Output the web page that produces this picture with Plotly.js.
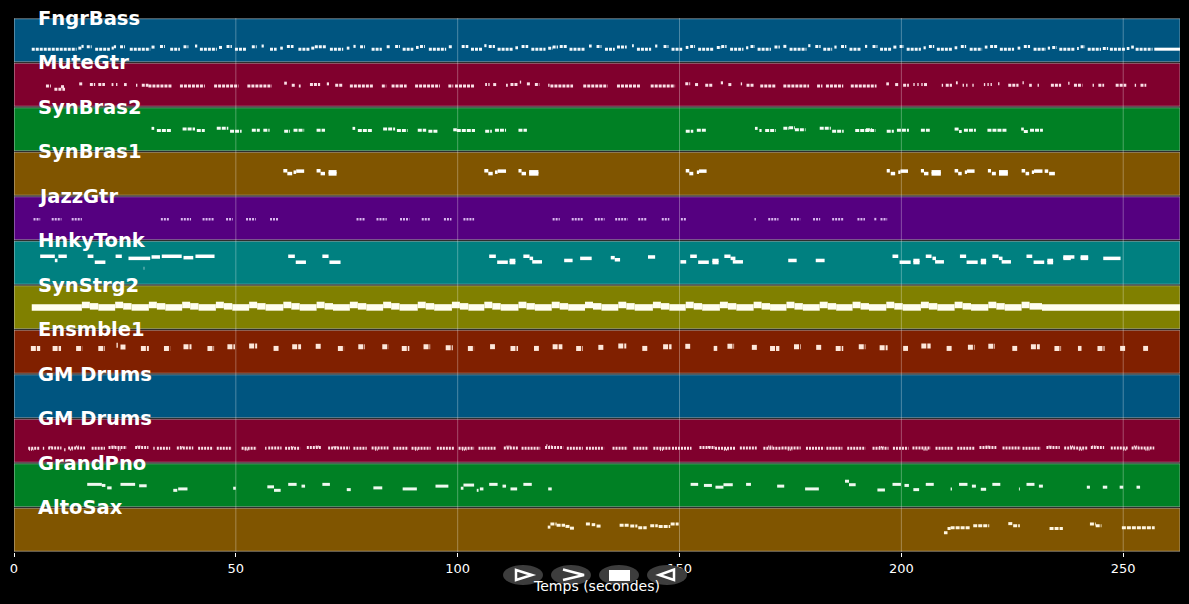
<!DOCTYPE html>
<html>
<head>
<meta charset="utf-8">
<script src="https://cdn.plot.ly/plotly-3.0.1.min.js"></script>
<style>html,body{margin:0;padding:0;background:#000}</style>
</head>
<body>
<div id="chart" style="width:1189px;height:604px"></div>
<script>
const songLength = 262.8;
const tickValues = [0, 50, 100, 150, 200, 250];
const trackNames = ['FngrBass', 'MuteGtr', 'SynBras2', 'SynBras1', 'JazzGtr', 'HnkyTonk', 'SynStrg2', 'Ensmble1', 'GM Drums', 'GM Drums', 'GrandPno', 'AltoSax'];
const trackColors = ['#005580', '#80002d', '#008024', '#805500', '#550080', '#008080', '#808000', '#802000', '#005580', '#80002d', '#008024', '#805500'];

// notes are [start, end, pitch]
const fngrBass = [[4,14.1,38],[14.5,15.2,41],[15.2,15.7,46],[16.4,17.5,45],[18.3,21.6,38],[22,22.5,41],[22.5,23,45],[23.9,25,45],[26.1,30.7,38],[31,31.7,44],[32.9,34,46],[35.2,37.4,38],[38.2,39.3,45],[40.8,41.3,47],[41.9,45.7,38],[46.2,47,43],[47.9,49.1,46],[49.8,52.4,38],[53.6,54.7,45],[55.8,56.3,47],[57.7,59.2,38],[60,60.6,41],[61.5,63,46],[64.1,66.7,38],[67,67.8,41],[67.8,70.5,45],[71.2,74.2,38],[75,75.6,41],[76.5,77,46],[78,79.1,45],[80.6,82.9,38],[84,84.9,45],[85.9,87,46],[87.6,90,38],[90.6,91.2,43],[91.5,92.6,46],[93.5,97.4,38],[98,98.8,45],[100.9,102.4,46],[103,105.5,38],[106,106.5,48],[107,108.4,46],[109,112.6,38],[113,113.6,42],[114.4,115.9,46],[116.6,119.8,38],[120.4,121.4,41],[121.4,122.6,44],[123,124.6,46],[125.2,128.6,38],[129.6,130.2,47],[131.3,132.4,46],[133.2,135.4,38],[135.9,138.1,44],[139.3,139.7,48],[140.4,143.6,38],[144.5,145,47],[146.4,147.5,46],[148.2,150.6,38],[151.4,152,43],[152.4,153.5,46],[154.2,157.8,38],[158.4,159.4,43],[159.4,160.6,46],[161.4,164.4,38],[165,165.5,42],[166,167,46],[167.6,170.6,38],[171.4,172.6,44],[173.4,174.2,46],[174.8,178.6,38],[179,179.5,48],[180.6,181.8,46],[182.4,184.4,38],[184.9,185.4,44],[186.4,187.6,46],[188.3,191,38],[191.8,192.3,46],[193.5,194.6,46],[195.2,197.8,38],[198.2,199,44],[199.6,200.6,46],[201.2,204.4,38],[205,205.5,42],[206.2,207.4,46],[208,211.4,38],[212,212.6,42],[213.4,214.6,46],[215.4,218.2,38],[218.8,219.4,44],[220,221.6,46],[222.2,225.4,38],[226.2,226.8,41],[227.6,229,46],[229.8,232.6,38],[233,233.5,41],[234,235,43],[235.6,239,38],[239.6,240,40],[240.4,241.4,45],[242,245,38],[245.4,246.6,40],[247,250.4,38],[250.8,251.4,40],[251.8,252.4,44],[252.8,256.6,38]];
const fngrBassHold = [[257,262.8,38]];
const muteGtr = [[7.2,8.3,60],[9.1,11.5,51],[10.6,11.4,58],[14.7,15.6,66],[17.1,18.3,64],[19,20.5,64],[22,22.4,64],[23,23.3,64],[24.8,25.4,64],[27.5,27.8,62],[28.8,30.3,62],[30.3,35.5,60],[37.4,43,60],[45.1,50.6,60],[52.6,58.1,60],[60.9,61.5,68],[62.6,63.3,62],[64.2,64.6,60],[66.7,69,64],[70.5,71,66],[72.4,74.2,62],[75.7,81,60],[82.9,83.9,60],[85.1,87,60],[87,88.5,60],[90.4,96,60],[97.9,99,60],[99.4,103.7,60],[106.2,106.6,64],[106.9,107.2,64],[108,108.7,64],[110.9,111.3,62],[111.9,113.7,64],[114,114.3,71],[115.6,116.3,66],[117.4,118.4,64],[120.4,120.7,62],[120.9,126,60],[128.3,133.8,60],[135.9,141.3,60],[143.5,149,60],[151.3,152.4,66],[153.5,154.2,64],[155.8,157.6,62],[159.3,159.8,69],[161,161.7,64],[163.8,164.1,66],[165.1,166.8,62],[168.2,171.7,60],[173.4,179.2,60],[181,182.2,60],[183,186.9,60],[188.6,194.4,60],[196.6,197.2,66],[198.6,199.5,64],[200.4,201.7,62],[202.7,203,64],[203.6,203.9,64],[204.5,204.8,64],[205.1,206,64],[209.1,209.4,62],[210,211.4,62],[212.3,212.7,69],[213.8,214.1,62],[214.6,214.9,62],[216,216.3,62],[218.6,218.9,64],[219.4,219.7,64],[220.1,220.4,64],[221.8,222.1,66],[224.1,226.4,62],[227.3,227.6,69],[228.8,229.4,62],[230.7,231,62],[233.7,236,62],[237.6,237.9,68],[238.9,240.8,62],[243.1,243.4,62],[244.4,245.7,62],[248.3,250.7,62],[252.6,252.9,62],[253.9,255.2,62]];
const synBras2 = [[31,31.6,66],[32.2,35.5,60],[38,40.8,64],[41.2,43,60],[45.7,48.3,66],[48.7,51.3,58],[53.6,55.4,61],[56.2,57.6,61],[60.9,62.2,58],[63,65.4,61],[68.2,70.1,61],[76.3,76.9,66],[77.5,80.8,60],[83.2,85.9,64],[86.3,88.7,60],[91,92.9,61],[93.4,95.6,58],[99,99.8,62],[99.8,103.9,60],[106.2,107.7,58],[108.4,110.9,61],[113.7,115.6,61],[151.4,153.1,58],[153.9,156.1,61],[167,167.6,66],[168,168.5,60],[169.3,171.7,60],[173.4,174.7,66],[174.7,176,68],[176,178.4,62],[181.6,184.1,66],[184.4,187,58],[189.6,194.2,60],[192,193.4,62],[196.7,198.3,58],[199,201.7,61],[204.4,206.4,61],[212,213,64],[213,213.6,57],[214.1,216.8,61],[219.4,223.9,61],[227,227.6,64],[227.6,228.6,57],[229,231.9,61]];
const synBras1 = [[60.7,61.6,72],[61.6,62.7,64],[63,63.6,68],[63.6,65.4,71],[68.2,69.1,72],[69.1,70.1,64],[70.9,72.7,69],[70.9,72.7,63],[106,106.9,72],[106.9,107.9,64],[108.4,109,68],[109,110.9,71],[113.7,114.4,72],[114.4,115.4,64],[116.1,118.2,69],[116.1,118.2,63],[151.4,152.2,72],[152.2,153.1,64],[153.9,154.4,68],[154.4,156.1,71],[196.7,197.4,72],[197.6,198.6,64],[199.3,199.8,68],[199.8,201.5,71],[204.4,205.1,72],[205.1,206.1,64],[206.8,208.9,69],[206.8,208.9,63],[212,212.8,72],[212.8,213.6,64],[214.3,214.8,68],[214.8,216.5,71],[219.5,220.2,72],[220.4,221.3,64],[222,224,69],[222,224,63],[227.1,227.9,72],[228,228.8,64],[229.4,229.9,68],[229.9,231.8,71],[232.3,233.1,71],[233.3,234.6,64]];
const jazzGtr = [[4.4,5.9,61],[8.5,10.7,61],[13,15.3,61],[33.1,34.9,61],[37.6,39.9,61],[42.5,45.1,61],[47.8,49.3,61],[52.3,54.5,61],[57.7,59.6,61],[77.2,79.1,61],[81.7,84,61],[87,89.1,61],[91.9,93.9,61],[96.9,98.6,61],[101.3,103.7,61],[121.4,123,61],[125.7,128.2,61],[130.9,133.1,61],[135.5,138.3,61],[140.7,142.6,61],[146,147.7,61],[150.3,151.5,61],[166.9,167.2,61],[170,172.3,61],[175.1,177.2,61],[180.1,181.7,61],[184.4,186.9,61],[190.1,191.8,61],[193.9,194.4,61],[195.3,196.8,61]];
const hnkyTonk = [[5.9,9.2,82],[9.2,9.8,70],[10,11.9,82],[16.6,17.9,82],[18.2,20.6,65],[22.9,24.3,82],[25.8,30.7,76],[31,32.9,80],[33.3,37.8,82],[38.2,40.4,78],[40.9,45.2,82],[61.8,63.3,82],[63.5,65.8,65],[69.5,70.9,82],[71.1,73.6,65],[107.1,108.6,82],[108.9,111.3,65],[111.7,113,70],[111.7,113,64],[114.8,116.2,82],[116.2,117,76],[116.8,119,66],[124,125.9,70],[127.6,130.2,76],[134.5,135.4,78],[135.4,136.6,72],[142.9,144.5,80],[150.2,151.5,66],[152.4,153.9,82],[154.2,156.6,65],[157.4,158.8,70],[157.4,158.8,64],[160.1,161.5,82],[161.5,162.6,76],[162,164.3,66],[174.5,176.4,70],[180.7,182.7,70],[198,199.3,82],[199.6,202.1,65],[202.7,204.1,70],[202.7,204.1,64],[205.5,206.8,82],[207,207.8,76],[207.6,209.6,66],[213.2,214.6,82],[214.7,217.2,65],[217.9,219.1,70],[217.9,219.1,64],[220.5,221.9,82],[222,222.8,76],[222.6,224.7,66],[228.2,229.5,82],[229.8,232.2,65],[232.9,234.2,70],[232.9,234.2,64],[236.5,239,80],[236.5,238.2,76],[240.4,242.1,80],[240.4,242.1,76],[245.5,249.4,76]];
const hnkyTonkFaint = [[29.2,29.4,48]];
const synStrg2 = [[4,15.3,63],[15.3,17.1,70],[17.1,19,66],[19,22.8,63],[22.8,24.6,70],[24.6,26.5,66],[26.5,30.4,63],[30.4,32.2,70],[32.2,34.1,66],[34.1,37.9,63],[37.9,39.7,70],[39.7,41.6,66],[41.6,45.5,63],[45.5,47.3,70],[47.3,49.2,66],[49.2,53,63],[53,54.8,70],[54.8,56.7,66],[56.7,60.7,63],[60.7,62.5,70],[62.5,64.4,66],[64.4,68.2,63],[68.2,70,70],[70,71.9,66],[71.9,75.7,63],[75.7,77.5,70],[77.5,79.4,66],[79.4,83.2,63],[83.2,85,70],[85,86.9,66],[86.9,91,63],[91,92.8,70],[92.8,94.7,66],[94.7,98.7,63],[98.7,100.5,70],[100.5,102.4,66],[102.4,106,63],[106,107.8,70],[107.8,109.7,66],[109.7,113.7,63],[113.7,115.5,70],[115.5,117.4,66],[117.4,121.2,63],[121.2,123,70],[123,124.9,66],[124.9,128.7,63],[128.7,130.5,70],[130.5,132.4,66],[132.4,136.2,63],[136.2,138,70],[138,139.9,66],[139.9,144,63],[144,145.8,70],[145.8,147.7,66],[147.7,151.4,63],[151.4,153.2,70],[153.2,155.1,66],[155.1,159.1,63],[159.1,160.9,70],[160.9,162.8,66],[162.8,166.7,63],[166.7,168.5,70],[168.5,170.4,66],[170.4,174.1,63],[174.1,175.9,70],[175.9,177.8,66],[177.8,181.6,63],[181.6,183.4,70],[183.4,185.3,66],[185.3,189,63],[189,190.8,70],[190.8,192.7,66],[192.7,196.6,63],[196.6,198.4,70],[198.4,200.3,66],[200.3,204.4,63],[204.4,206.2,70],[206.2,208.1,66],[208.1,212,63],[212,213.8,70],[213.8,215.7,66],[215.7,219.6,63],[219.6,221.4,70],[221.4,223.3,66],[223.3,227.1,63],[227.1,228.9,70],[228.9,231.7,66],[231.7,262.8,63]];
const ensmble1 = [[3.8,5.9,73],[8.7,10.6,73],[14,15.4,73],[19,20.5,73],[23.1,23.4,82],[24,25.2,77],[28.6,30.4,73],[33.8,35.2,73],[38.2,40,78],[43.6,45.1,73],[48.1,49.8,78],[53,54.8,80],[58.5,59.7,73],[62.7,64.7,78],[68,69.2,79],[73,74.4,73],[77.6,79.1,78],[83,84.4,78],[87.4,89.1,73],[92.3,93.8,78],[97.3,98.9,75],[102.3,103.7,73],[107.3,108.4,78],[111.9,113.6,73],[117.2,118.3,73],[121.4,123.6,78],[126.7,128.2,73],[131.7,133,76],[136.2,138,80],[141.6,142.9,73],[146.3,148.2,78],[151.3,152.4,79],[157.7,158.5,73],[160.8,162.3,79],[166.3,167.6,76],[170.4,172.5,73],[175.8,177.3,78],[180.8,182,76],[185.2,186.9,73],[190.4,191.9,78],[195.1,196.9,75],[200.4,201.5,73],[204.5,206.6,80],[210.2,211.4,73],[215,216.5,76],[219.6,221.1,79],[225,226.1,73],[229.2,231.2,78],[234.5,236,73],[239.8,240.6,73],[244.2,245.8,73],[249.3,250.5,73],[254.5,255.6,73]];
const gmDrums1 = [];
const gmDrums2 = [[3.2,5.9,42],[6.5,6.8,42],[7.7,10.7,43],[11.3,11.6,38],[12.2,16,43],[17.5,20.5,42],[21.3,25.4,44],[27.3,30.3,44],[31.4,31.7,42],[32.2,35.2,42],[36.7,40.4,43],[41.5,44.9,42],[45.7,49.1,42],[51.3,54.7,42],[56.6,56.9,42],[57.3,60.3,43],[61.1,64.5,42],[66,69.3,44],[70.8,75.7,43],[76.5,79.5,42],[80.6,84.4,43],[85.5,88.9,42],[89.6,93.9,42],[95.3,99.2,42],[100.2,103.7,42],[104.7,108.6,42],[110.4,113.7,43],[114.4,118.6,42],[119.7,123.8,44],[124.6,128.2,42],[128.9,133,42],[134.9,138.3,42],[139.6,143,42],[144.1,148,42],[148.3,152.7,42],[154.5,158,44],[158,162.5,42],[163.6,167.4,43],[168.9,173,42],[173,177.3,43],[178.5,182.6,42],[183.1,186.7,42],[187.8,191.9,42],[193.5,197.1,42],[198.1,201.6,42],[202.5,206.6,43],[207.7,211.6,42],[212.6,216.6,42],[217.6,221.4,44],[222.8,226.9,43],[227.3,231.4,42],[232.7,235.7,44],[236.7,242,43],[242.7,245.7,44],[247.2,251,43],[251.9,257,43]];
const drumAccents = [[3.4,4.4,38],[8,8.6,46],[12.6,13.2,38],[14,14.6,47],[22,22.8,47],[23.4,24,38],[27.8,28.6,47],[37.4,38,46],[52,53,38],[62.4,63,46],[68,68.8,47],[72,73,46],[81.4,82,38],[90.4,91,38],[101,102,38],[111,112,47],[120,120.4,51],[120.6,121.4,47],[145.6,146.4,38],[156,157,46],[160,161,38],[170,171,47],[174.4,175.4,38],[195,196,46],[205,206,38],[219,220,47],[233.2,233.8,47],[238,239,47],[240,241,38],[243,244,47],[250,250.8,38],[252.4,253.4,47],[255,256,38]];
const grandPno = [[16.5,19.8,66],[19.8,20.6,63],[21,22,56],[24,27.3,66],[28.2,29.9,62],[35.9,36.8,49],[37,39.1,53],[49.4,50,55],[57.1,58.6,59],[58.6,60.1,49],[61.8,63.7,66],[64.8,65.6,61],[69.5,71.2,66],[75,75.9,51],[81,83,56],[87.6,90.8,53],[95,97.9,61],[100.7,101.3,55],[101.3,103.7,64],[104.3,104.7,49],[105,105.8,53],[107.1,109,66],[110.1,110.9,61],[111.9,113.4,53],[114.8,116.7,66],[120.4,121.2,53],[152.5,154.2,66],[155.5,157.3,63],[158.1,159.9,58],[159.9,162,65],[165,166.1,66],[172,173.6,61],[178.3,181.4,53],[187.3,188.2,75],[188.2,189.7,65],[194.6,196.3,50],[198,199.9,66],[200.7,201.7,63],[202.7,204,51],[205.5,207.3,66],[211.1,211.4,53],[213,214.9,66],[215.9,216.8,61],[217.9,219.1,52],[220.5,222.3,66],[226.5,226.7,53],[228.2,230,66],[231,231.9,61],[241.8,242.5,58],[245.4,246.4,58],[249.2,250,58],[253,253.8,58]];
const altoSax = [[120.3,120.9,71],[120.9,122.3,80],[122.3,124.2,76],[124.3,125.3,73],[125.3,126.3,68],[128.9,129.9,80],[130.2,131,78],[131.3,132.4,74],[136.5,138.7,76],[138.9,140.5,74],[140.7,142.6,69],[143.4,145.1,75],[145.3,147.9,73],[148,149.8,80],[209.6,210.4,55],[210.4,211.1,67],[211.1,215.6,69],[216.2,219.8,75],[224.1,225.2,81],[225.2,226.7,75],[233.4,236.4,67],[242.5,243.8,80],[243.8,245.1,75],[249.7,257.1,69]];

const trackNotes = [fngrBass, muteGtr, synBras2, synBras1, jazzGtr, hnkyTonk, synStrg2, ensmble1, gmDrums1, gmDrums2, grandPno, altoSax];
const noteStyles = [
    {width: 3, dash: '3px,1px', color: '#f2f8fb'},
    {width: 3, dash: '3px,1px', color: '#fbdfe6'},
    {width: 3, dash: '4px,1px', color: '#f4fbf5'},
    {width: 3.5, dash: 'solid', color: '#ffffff'},
    {width: 2.5, dash: '2px,1px', color: '#d9b8ee'},
    {width: 3.5, dash: 'solid', color: '#ffffff'},
    {width: 6.5, dash: 'solid', color: '#fffef0'},
    {width: 5, dash: '5px,1px', color: '#fde7da'},
    {width: 2, dash: 'solid', color: '#ffffff'},
    {width: 3, dash: '2px,1px', color: '#fbdfe6'},
    {width: 3, dash: 'solid', color: '#eef8ef'},
    {width: 3, dash: '4px,1px', color: '#fff6e0'}
];

// pitch 0-127 fills one band, top of the band is the highest note
function noteTrace(notes, track, style) {
    const x = [], y = [];
    notes.forEach(n => {
        x.push(n[0], n[1], null);
        y.push(track + 1 - n[2] / 127, track + 1 - n[2] / 127, null);
    });
    return {type: 'scatter', mode: 'lines', x: x, y: y, line: {width: style.width, dash: style.dash, color: style.color}, hoverinfo: 'skip'};
}

const bands = {
    type: 'bar',
    orientation: 'h',
    x: trackNames.map(() => songLength),
    y: trackNames.map((n, i) => i + 0.5),
    width: 0.965,
    marker: {color: trackColors, line: {color: 'rgba(215,215,215,0.5)', width: 1}},
    hoverinfo: 'skip'
};

const gridX = [], gridY = [];
tickValues.forEach(t => {
    gridX.push(t, t, null);
    gridY.push(0, 12, null);
});
const grid = {type: 'scatter', mode: 'lines', x: gridX, y: gridY, line: {color: 'rgba(255,255,255,0.3)', width: 1}, hoverinfo: 'skip'};

const traces = [bands, grid];
trackNotes.forEach((notes, i) => traces.push(noteTrace(notes, i, noteStyles[i])));
traces.push(noteTrace(fngrBassHold, 0, {width: 3, dash: 'solid', color: '#ffffff'}));
traces.push(noteTrace(hnkyTonkFaint, 5, {width: 3, dash: 'solid', color: 'rgba(255,255,255,0.6)'}));
traces.push(noteTrace(drumAccents, 9, {width: 2, dash: '1px,1px', color: '#fbdfe6'}));

// player buttons sit below the plot, given in window pixels
const plotLeft = 14, plotRight = 1180, plotTop = 18, plotBottom = 552;
const paperX = px => (px - plotLeft) / (plotRight - plotLeft);
const paperY = py => (plotBottom - py) / (plotBottom - plotTop);
const pathOf = (pts, close) => pts.map((p, i) => (i ? 'L' : 'M') + paperX(p[0]) + ',' + paperY(p[1])).join(' ') + (close ? ' Z' : '');

const buttonShapes = [523, 571, 619, 667].map(c => ({
    type: 'circle', xref: 'paper', yref: 'paper', layer: 'above',
    x0: paperX(c - 20), x1: paperX(c + 20), y0: paperY(585), y1: paperY(565),
    fillcolor: '#3d3d3d', line: {width: 0}
}));
const glyphLine = {color: '#ffffff', width: 2.5};
const glyphShapes = [
    {type: 'path', path: pathOf([[516, 570], [516, 580], [532, 575]], true), line: glyphLine},
    {type: 'path', path: pathOf([[563, 569.5], [584, 575], [563, 580]], false), line: glyphLine},
    {type: 'path', path: pathOf([[609, 570], [630, 570], [630, 581], [609, 581]], true), line: {color: '#ffffff', width: 0}, fillcolor: '#ffffff'},
    {type: 'path', path: pathOf([[674, 569.5], [674, 580], [659, 575]], true), line: glyphLine}
].map(s => Object.assign({xref: 'paper', yref: 'paper', layer: 'above'}, s));

const labels = trackNames.map((name, i) => ({
    text: name, xref: 'paper', yref: 'y', x: paperX(36), y: i, xanchor: 'left', yanchor: 'middle',
    showarrow: false, font: {family: 'DejaVu Sans', size: 19.5, color: '#ffffff', weight: 700}
}));

const layout = {
    width: 1189,
    height: 604,
    margin: {l: plotLeft, r: 1189 - plotRight, t: plotTop, b: 604 - plotBottom, pad: 0},
    paper_bgcolor: '#000',
    plot_bgcolor: '#000',
    showlegend: false,
    barmode: 'overlay',
    font: {family: 'DejaVu Sans', color: '#fff'},
    xaxis: {
        range: [0, songLength],
        tickvals: tickValues,
        ticktext: tickValues.map(String),
        ticks: 'outside',
        ticklen: 4,
        tickcolor: '#fff',
        tickfont: {size: 13, color: '#fff'},
        showgrid: false,
        zeroline: false,
        showline: false,
        title: {text: 'Temps (secondes)', font: {size: 14, color: '#fff'}, standoff: 6}
    },
    yaxis: {range: [12, 0], visible: false},
    shapes: buttonShapes.concat(glyphShapes),
    annotations: labels
};

Plotly.newPlot('chart', traces, layout, {displayModeBar: false, staticPlot: true});
</script>
</body>
</html>
